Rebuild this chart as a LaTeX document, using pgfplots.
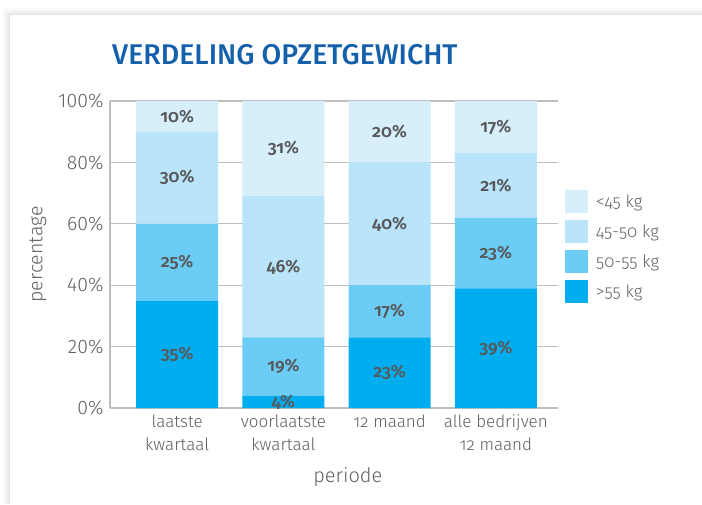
\documentclass[border=0pt]{standalone}
\usepackage{fontspec}
\setmainfont{Fira Sans Light}[BoldFont={Fira Sans SemiBold}, Numbers=OldStyle]
\newfontfamily\lin{Fira Sans Light}[Numbers=Lining]
\newfontfamily\titlefont{Fira Sans Medium}
\usepackage{pgfplots}
\pgfplotsset{compat=1.18}
\definecolor{cA}{HTML}{00ADEE}
\definecolor{cB}{HTML}{6BCDF5}
\definecolor{cC}{HTML}{B9E4F9}
\definecolor{cD}{HTML}{D7EEFB}
\definecolor{txt}{HTML}{58595B}
\definecolor{tck}{HTML}{606060}
\definecolor{ttl}{HTML}{1460AA}
\definecolor{gridc}{HTML}{BEBEBE}
\begin{document}
\begin{tikzpicture}[x=1pt,y=1pt]
\useasboundingbox (0,0) rectangle (702,504);
\fill[white] (0,0) rectangle (702,504);
\fill[black!2] (3,0) rectangle (702,496);
\fill[black!4] (5,0) rectangle (702,494);
\fill[black!7] (7,0) rectangle (702,492);
\fill[black!10] (9,0) rectangle (702,490);
\fill[white] (10,0) rectangle (702,489);
\node[anchor=base west, font=\titlefont\fontsize{28.5}{32}\selectfont, text=ttl, inner sep=0] at (112,439) {VERDELING OPZETGEWICHT};
\begin{axis}[
  at={(110pt,96pt)}, anchor=south west,
  scale only axis, width=448pt, height=307pt,
  xmin=-0.632, xmax=3.585, ymin=0, ymax=100,
  ybar stacked, bar width=82pt,
  axis x line*=bottom, axis y line*=left,
  axis line style={draw=gridc, line width=1.2pt},
  ymajorgrids, grid style={draw=gridc, line width=1.2pt},
  major tick length=0pt,
  ytick={0,20,40,60,80,100},
  yticklabel={\lin\pgfmathprintnumber{\tick}\%},
  yticklabel style={font=\fontsize{19.5}{22}\selectfont, text=tck, xshift=-3pt},
  xtick={0,1,2,3},
  xticklabels={{laatste\\kwartaal},{voorlaatste\\kwartaal},{12 maand},{alle bedrijven\\12 maand}},
  xticklabel style={align=center, font=\fontsize{17}{23.5}\selectfont, text=tck, yshift=-3pt},
  /pgf/number format/assume math mode=true,
  ylabel={percentage},
  ylabel style={at={(axis description cs:-0.1607,0.5)}, anchor=center, font=\fontsize{19.5}{22}\selectfont, text=tck},
  xlabel={periode},
  xlabel style={at={(axis description cs:0.531,-0.2248)}, anchor=center, font=\fontsize{20}{22}\selectfont, text=tck},
  nodes near coords={\pgfmathprintnumber{\pgfplotspointmeta}\%},
  every node near coord/.append style={font=\bfseries\fontsize{17.5}{19}\selectfont, text=txt, anchor=center},
  reverse legend,
  legend style={at={(1.0156,0.710)}, anchor=north west, draw=none, fill=none, inner sep=0pt, row sep=7pt, font=\fontsize{17}{19}\selectfont, text=tck, cells={anchor=west}, /tikz/every odd column/.append style={column sep=6pt}},
  legend image code/.code={\fill[#1] (0pt,-11.5pt) rectangle (23pt,11.5pt);},
]
\addplot[fill=cA, draw=none] coordinates {(0,35) (1,4) (2,23) (3,39)};
\addplot[fill=cB, draw=none] coordinates {(0,25) (1,19) (2,17) (3,23)};
\addplot[fill=cC, draw=none] coordinates {(0,30) (1,46) (2,40) (3,21)};
\addplot[fill=cD, draw=none] coordinates {(0,10) (1,31) (2,20) (3,17)};
\legend{>55 kg, 50-55 kg, 45-50 kg, <45 kg}
\end{axis}
\end{tikzpicture}
\end{document}
